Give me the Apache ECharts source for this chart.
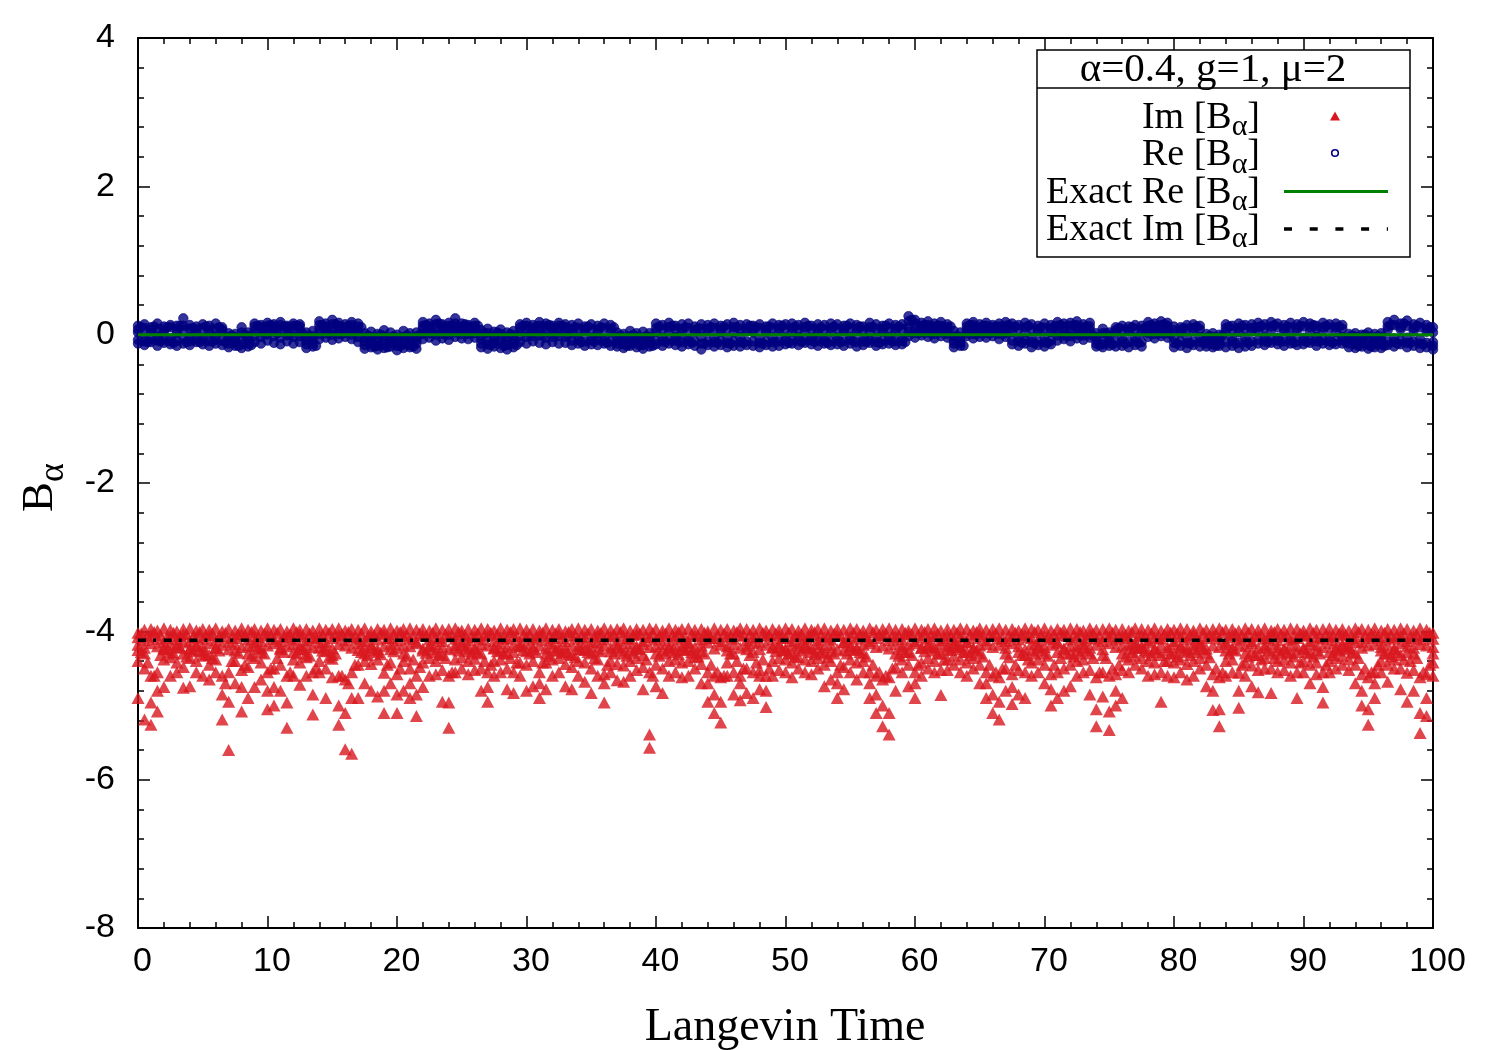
<!DOCTYPE html>
<html><head><meta charset="utf-8">
<script src="https://cdn.jsdelivr.net/npm/echarts@6/dist/echarts.min.js"></script>
<style>html,body{margin:0;padding:0;background:#fff}#c{width:1500px;height:1050px}</style>
</head><body><div id="c"></div>
<script>
// Langevin time grid (samples on whole/half steps)
const time = [0,.5,1,1.5,2,2.5,3,3.5,4,4.5,5,5.5,6,6.5,7,7.5,8,8.5,9,9.5,
10,10.5,11,11.5,12,12.5,13,13.5,14,14.5,15,15.5,16,16.5,17,17.5,18,18.5,19,19.5,
20,20.5,21,21.5,22,22.5,23,23.5,24,24.5,25,25.5,26,26.5,27,27.5,28,28.5,29,29.5,
30,30.5,31,31.5,32,32.5,33,33.5,34,34.5,35,35.5,36,36.5,37,37.5,38,38.5,39,39.5,
40,40.5,41,41.5,42,42.5,43,43.5,44,44.5,45,45.5,46,46.5,47,47.5,48,48.5,49,49.5,
50,50.5,51,51.5,52,52.5,53,53.5,54,54.5,55,55.5,56,56.5,57,57.5,58,58.5,59,59.5,
60,60.5,61,61.5,62,62.5,63,63.5,64,64.5,65,65.5,66,66.5,67,67.5,68,68.5,69,69.5,
70,70.5,71,71.5,72,72.5,73,73.5,74,74.5,75,75.5,76,76.5,77,77.5,78,78.5,79,79.5,
80,80.5,81,81.5,82,82.5,83,83.5,84,84.5,85,85.5,86,86.5,87,87.5,88,88.5,89,89.5,
90,90.5,91,91.5,92,92.5,93,93.5,94,94.5,95,95.5,96,96.5,97,97.5,98,98.5,99,99.5,100];
// in-between samples
const timeOff = [.25,.75,1.25,1.75,2.25,2.75,3.25,3.75,4.25,4.75,5.25,5.75,6.25,6.75,7.25,7.75,8.25,8.75,9.25,9.75,
10.25,10.75,11.25,11.75,12.25,12.75,13.25,13.75,14.25,14.75,15.25,15.75,16.25,16.75,17.25,17.75,18.25,18.75,19.25,19.75,
20.25,20.75,21.25,21.75,22.25,22.75,23.25,23.75,24.25,24.75,25.25,25.75,26.25,26.75,27.25,27.75,28.25,28.75,29.25,29.75,
30.25,30.75,31.25,31.75,32.25,32.75,33.25,33.75,34.25,34.75,35.25,35.75,36.25,36.75,37.25,37.75,38.25,38.75,39.25,39.75,
40.25,40.75,41.25,41.75,42.25,42.75,43.25,43.75,44.25,44.75,45.25,45.75,46.25,46.75,47.25,47.75,48.25,48.75,49.25,49.75,
50.25,50.75,51.25,51.75,52.25,52.75,53.25,53.75,54.25,54.75,55.25,55.75,56.25,56.75,57.25,57.75,58.25,58.75,59.25,59.75,
60.25,60.75,61.25,61.75,62.25,62.75,63.25,63.75,64.25,64.75,65.25,65.75,66.25,66.75,67.25,67.75,68.25,68.75,69.25,69.75,
70.25,70.75,71.25,71.75,72.25,72.75,73.25,73.75,74.25,74.75,75.25,75.75,76.25,76.75,77.25,77.75,78.25,78.75,79.25,79.75,
80.25,80.75,81.25,81.75,82.25,82.75,83.25,83.75,84.25,84.75,85.25,85.75,86.25,86.75,87.25,87.75,88.25,88.75,89.25,89.75,
90.25,90.75,91.25,91.75,92.25,92.75,93.25,93.75,94.25,94.75,95.25,95.75,96.25,96.75,97.25,97.75,98.25,98.75,99.25,99.75];

// Re[B_alpha] samples on `time`: upper edge, upper-middle, middle, lower-middle, lower edge of the band
const reA = [.12,.14,.1,.15,.11,.13,.12,.22,.13,.11,.14,.12,.15,.1,
.02,.01,.1,.03,
.15,.13,.16,.14,.17,.12,.15,.14,
.03,.05,
.18,.15,.2,.16,.14,.17,.15,
.02,.04,.01,.06,.03,0,.05,.02,.03,
.17,.15,.2,.14,.16,.22,.15,.13,.16,
.06,.08,.04,.07,.03,.05,
.14,.16,.13,.17,.15,.12,.16,.14,
.13,.15,.11,.14,.12,.15,.13,
.03,.01,.05,.02,.04,.02,
.15,.13,.16,.12,.14,.15,.11,.14,.13,
.15,.12,.14,.16,.13,.14,
.12,.14,.11,.15,.13,.14,
.15,.13,.16,.12,.14,.13,.15,
.14,.12,.15,.13,.11,.16,.14,.12,.15,.13,.14,
.25,.2,.16,.18,.15,.17,.14,
.05,.03,
.15,.17,.14,.16,.13,.15,.17,
.15,.13,.16,.14,.12,.15,.13,
.17,.15,.16,.18,.14,.16,
.02,.08,.03,
.1,.12,.11,.13,.12,
.17,.15,.18,.16,
.11,.1,.13,.14,.12,
.01,.02,0,
.14,.12,.15,.13,.14,
.16,.14,.17,.15,.13,.16,.14,.17,.15,.12,.16,.14,.15,.13,
.01,.02,0,.03,.01,.02,
.17,.2,.15,.19,.14,.16,.13,.1];
const reD = [.07,.09,.06,.08,.07,.1,.06,.12,.08,.07,.09,.06,.08,.07,
-.03,-.04,.03,-.02,
.11,.1,.12,.11,.13,.1,.12,.11,
-.03,-.02,
.13,.11,.14,.12,.1,.13,.11,
-.04,-.03,-.05,-.02,-.04,-.05,-.03,-.04,-.03,
.12,.11,.14,.1,.12,.15,.11,.1,.12,
-.01,.02,-.02,.01,-.03,-.01,
.1,.12,.09,.12,.11,.09,.12,.1,
.08,.09,.07,.08,.06,.09,.08,
-.03,-.04,-.02,-.03,-.04,-.03,
.09,.07,.1,.07,.08,.09,.06,.08,.08,
.09,.07,.08,.1,.07,.08,
.07,.09,.06,.09,.08,.08,
.09,.07,.1,.07,.08,.07,.09,
.08,.07,.09,.08,.06,.1,.08,.07,.09,.08,.08,
.18,.15,.12,.13,.11,.12,.1,
-.02,-.03,
.11,.13,.1,.12,.1,.11,.12,
.09,.08,.1,.08,.07,.09,.08,
.12,.11,.12,.13,.1,.11,
-.03,.02,-.02,
.06,.07,.07,.08,.07,
.12,.11,.13,.12,
.06,.06,.08,.09,.07,
-.04,-.03,-.05,
.09,.07,.09,.08,.09,
.1,.09,.11,.1,.08,.1,.09,.11,.1,.08,.1,.09,.1,.08,
-.04,-.03,-.05,-.03,-.04,-.03,
.11,.13,.1,.12,.09,.1,.08,.03];
const reC = [.03,-.04,.05,-.02,.04,-.05,.02,.06,-.03,.04,-.04,.03,-.02,.05,
-.08,-.07,-.09,-.06,
.05,.08,.03,.07,.04,.09,.05,.06,
-.08,-.07,
.07,.09,.05,.08,.06,.09,.04,
-.09,-.07,-.1,-.08,-.06,-.09,-.08,-.1,-.07,
.08,.06,.09,.05,.08,.1,.07,.06,.08,
-.06,-.08,-.07,-.05,-.09,-.07,
.05,.07,.04,.08,.06,.03,.07,.05,
.04,-.03,.05,-.04,.02,-.05,.03,
-.08,-.06,-.09,-.07,-.08,-.06,
.04,-.04,.05,-.03,.03,-.05,.04,-.03,.05,
-.04,.04,-.05,.03,-.03,.05,
.03,-.05,.04,-.03,.05,-.04,
.04,-.03,.05,-.04,.03,-.05,.04,
-.04,.05,-.03,.04,-.05,.03,-.04,.05,-.03,.04,-.05,
.1,.08,.06,.09,.07,.08,.05,
-.08,-.07,
.06,.08,.05,.09,.07,.06,.08,
.04,-.05,.03,-.04,.05,-.03,.04,
.06,.08,.05,.09,.07,.06,
-.07,-.09,-.08,
.03,-.05,.04,-.04,.03,
.07,.09,.06,.08,
-.05,.03,-.04,.05,-.03,
-.08,-.07,-.09,
.04,-.05,.03,-.04,.05,
.05,-.03,.06,-.04,.05,-.02,.06,-.04,.04,-.03,.06,-.05,.04,-.03,
-.07,-.09,-.08,-.1,-.07,-.08,
.06,-.05,.07,-.04,.05,-.06,.04,-.1];
const reE = [-.07,-.09,-.06,-.08,-.07,-.09,-.08,-.06,-.09,-.06,-.08,-.09,-.07,-.08,
-.12,-.11,-.13,-.12,
-.02,-.03,0,-.02,-.04,-.01,-.03,-.02,
-.13,-.12,
.01,.02,0,.01,.02,0,-.03,
-.14,-.12,-.15,-.13,-.11,-.15,-.13,-.14,-.12,
.01,.02,0,.01,0,.03,.01,.01,.02,
-.12,-.13,-.11,-.12,-.14,-.12,
-.02,-.03,-.02,-.01,-.04,-.03,-.02,-.03,
-.08,-.07,-.09,-.08,-.07,-.08,-.09,
-.12,-.13,-.12,-.12,-.14,-.11,
-.08,-.09,-.07,-.08,-.1,-.08,-.09,-.12,-.09,
-.1,-.08,-.11,-.09,-.1,-.09,
-.09,-.11,-.09,-.1,-.09,-.08,
-.07,-.08,-.07,-.08,-.09,-.08,-.09,
-.08,-.09,-.07,-.1,-.09,-.07,-.1,-.08,-.07,-.09,-.08,
.04,.02,.03,.03,.01,.03,.01,
-.12,-.11,
.02,.01,.02,.02,.03,.01,.02,
-.08,-.09,-.07,-.1,-.09,-.1,-.08,
-.01,-.01,-.02,0,-.01,0,
-.12,-.13,-.11,
-.1,-.09,-.1,-.09,-.1,
.02,.01,.02,.02,
-.11,-.09,-.11,-.09,-.1,
-.12,-.13,-.12,
-.1,-.09,-.11,-.1,-.09,
-.07,-.09,-.06,-.08,-.09,-.07,-.09,-.08,-.07,-.09,-.07,-.09,-.08,-.07,
-.12,-.13,-.12,-.14,-.12,-.13,
-.09,-.1,-.08,-.11,-.09,-.12,-.11,-.15];
const reB = [-.12,-.14,-.1,-.15,-.11,-.13,-.15,-.12,-.14,-.1,-.13,-.15,-.12,-.14,
-.17,-.15,-.18,-.16,
-.1,-.12,-.08,-.11,-.13,-.09,-.12,-.1,
-.18,-.16,
-.06,-.04,-.07,-.05,-.03,-.06,-.1,
-.19,-.17,-.2,-.18,-.16,-.21,-.18,-.17,-.19,
-.06,-.04,-.08,-.05,-.07,-.03,-.05,-.06,-.04,
-.17,-.19,-.16,-.18,-.2,-.17,
-.1,-.12,-.09,-.11,-.13,-.1,-.12,-.11,
-.14,-.12,-.15,-.13,-.14,-.12,-.15,
-.16,-.18,-.15,-.17,-.19,-.16,
-.13,-.15,-.12,-.14,-.16,-.13,-.15,-.2,-.14,
-.16,-.14,-.17,-.15,-.16,-.14,
-.15,-.17,-.14,-.16,-.15,-.13,
-.12,-.14,-.11,-.13,-.15,-.12,-.14,
-.13,-.15,-.12,-.16,-.14,-.11,-.15,-.13,-.12,-.14,-.13,
-.02,-.04,-.01,-.03,-.05,-.02,-.04,
-.17,-.15,
-.02,-.05,-.03,-.04,-.02,-.06,-.03,
-.13,-.15,-.12,-.17,-.14,-.16,-.13,
-.08,-.06,-.09,-.05,-.07,-.04,
-.16,-.17,-.15,
-.16,-.15,-.17,-.14,-.16,
-.03,-.05,-.02,-.04,
-.17,-.15,-.18,-.14,-.16,
-.16,-.17,-.15,
-.17,-.15,-.18,-.16,-.15,
-.12,-.14,-.11,-.13,-.15,-.12,-.14,-.13,-.11,-.15,-.12,-.14,-.13,-.12,
-.17,-.18,-.16,-.19,-.17,-.18,
-.14,-.16,-.13,-.17,-.15,-.18,-.17,-.2];
// Re[B_alpha] samples on `timeOff`
const reF = [.1,-.1,.11,-.09,.1,-.11,.12,-.1,.09,-.1,.11,-.09,.1,-.1,
-.01,-.15,0,-.14,
.12,.01,.13,.02,.11,0,.12,.01,
-.02,-.15,
.13,.02,.14,.01,.12,.03,.1,
-.01,-.16,0,-.17,-.02,-.15,-.01,-.16,0,
.13,.02,.15,.01,.12,.03,.14,.02,.12,
.02,-.14,.03,-.15,.01,-.14,
.12,0,.11,-.01,.13,0,.12,-.01,
.1,-.1,.11,-.09,.1,-.11,.1,
-.01,-.15,0,-.14,-.02,-.15,
.11,-.1,.12,-.09,.1,-.11,.09,-.12,.1,
-.11,.11,-.12,.1,-.11,.12,
.1,-.12,.11,-.1,.12,-.11,
.11,-.1,.12,-.09,.1,-.11,.11,
-.1,.12,-.09,.11,-.1,.1,-.11,.12,-.09,.11,-.1,
.2,.03,.13,.02,.12,.03,.11,
-.02,-.15,
.13,.01,.12,.02,.11,.01,.13,
.11,-.11,.12,-.12,.1,-.11,.11,
.13,-.01,.12,0,.11,-.01,
-.14,.02,-.13,
.09,-.12,.1,-.11,.09,
.13,.02,.14,.01,
-.12,.09,-.12,.11,-.1,
-.02,-.15,-.01,
.11,-.12,.12,-.11,.1,
.12,-.1,.13,-.09,.11,-.11,.12,-.1,.13,-.09,.12,-.11,.11,-.1,
-.01,-.15,0,-.16,-.02,-.15,
.13,-.12,.15,-.11,.12,-.13,.1];

// Im[B_alpha] samples on `time`: from the top edge of the band down to the tail
const imA = [-4.02,-3.98,-3.97,-3.99,-3.96,-3.98,-4,-3.97,-3.96,-3.99,-3.97,-3.98,-3.96,-4,-3.97,-3.99,-3.96,-3.98,-3.97,-3.99,
-3.96,-3.98,-3.97,-4,-3.96,-3.98,-3.97,-3.99,-3.96,-3.98,-3.97,-3.96,-3.99,-3.97,-3.98,-3.96,-4,-3.97,-3.98,-3.96,
-3.99,-3.97,-3.96,-3.98,-3.97,-3.99,-3.96,-3.98,-3.97,-3.96,-3.99,-3.97,-3.98,-3.96,-3.97,-3.99,-3.96,-3.98,-3.97,-3.96,
-3.98,-3.97,-3.99,-3.96,-3.98,-3.97,-4,-3.97,-3.96,-3.98,-3.97,-3.99,-3.96,-3.98,-3.97,-3.96,-3.99,-3.97,-3.98,-3.96,
-3.97,-3.99,-3.96,-3.98,-3.97,-3.96,-3.98,-3.97,-4,-3.96,-3.98,-3.97,-3.99,-3.96,-3.97,-3.98,-3.96,-3.99,-3.97,-3.98,
-3.96,-3.97,-3.99,-3.96,-3.98,-3.97,-3.96,-3.99,-3.97,-3.98,-3.96,-3.97,-3.99,-3.96,-3.98,-3.97,-3.96,-3.98,-3.97,-3.99,
-3.96,-3.98,-3.97,-3.96,-3.99,-3.97,-3.98,-3.96,-3.97,-3.99,-3.96,-3.98,-3.97,-3.96,-3.98,-3.97,-3.99,-3.96,-3.97,-3.98,
-3.96,-3.99,-3.97,-3.98,-3.96,-3.97,-3.99,-3.96,-3.98,-3.97,-3.96,-3.98,-3.97,-3.99,-3.96,-3.97,-3.98,-3.96,-3.99,-3.97,
-3.98,-3.96,-3.97,-3.99,-3.96,-3.98,-3.97,-3.96,-3.98,-3.97,-3.99,-3.96,-3.97,-3.98,-3.96,-3.99,-3.97,-3.98,-3.96,-3.97,
-3.99,-3.96,-3.98,-3.97,-3.96,-3.98,-3.97,-3.99,-3.96,-3.97,-3.98,-3.96,-3.99,-3.97,-3.98,-3.96,-3.97,-3.99,-3.96,-3.98,-4.02];
const imB = [-4.08,-4.12,-4.05,-4.1,-4.14,-4.06,-4.11,-4.04,-4.13,-4.08,-4.1,-4.05,-4.12,-4.07,-4.14,-4.09,-4.04,-4.11,-4.06,-4.13,
-4.05,-4.1,-4.13,-4.07,-4.11,-4.04,-4.12,-4.08,-4.06,-4.14,-4.09,-4.05,-4.12,-4.07,-4.1,-4.13,-4.06,-4.11,-4.04,-4.09,
-4.12,-4.06,-4.1,-4.14,-4.05,-4.11,-4.08,-4.13,-4.06,-4.1,-4.04,-4.12,-4.07,-4.11,-4.05,-4.13,-4.08,-4.1,-4.06,-4.14,
-4.07,-4.11,-4.05,-4.12,-4.09,-4.04,-4.13,-4.06,-4.1,-4.08,-4.14,-4.05,-4.11,-4.07,-4.12,-4.06,-4.1,-4.04,-4.13,-4.08,
-4.11,-4.05,-4.12,-4.07,-4.1,-4.14,-4.06,-4.11,-4.04,-4.09,-4.13,-4.07,-4.1,-4.05,-4.12,-4.08,-4.14,-4.06,-4.11,-4.05,
-4.09,-4.13,-4.06,-4.1,-4.04,-4.12,-4.08,-4.11,-4.05,-4.14,-4.07,-4.1,-4.06,-4.13,-4.09,-4.05,-4.12,-4.07,-4.11,-4.04,
-4.13,-4.08,-4.1,-4.06,-4.12,-4.05,-4.11,-4.07,-4.14,-4.09,-4.04,-4.12,-4.06,-4.1,-4.13,-4.07,-4.11,-4.05,-4.09,-4.12,
-4.06,-4.1,-4.14,-4.05,-4.11,-4.08,-4.12,-4.04,-4.1,-4.13,-4.07,-4.11,-4.06,-4.09,-4.14,-4.05,-4.12,-4.08,-4.1,-4.06,
-4.13,-4.07,-4.11,-4.04,-4.12,-4.09,-4.06,-4.1,-4.14,-4.05,-4.11,-4.08,-4.13,-4.06,-4.1,-4.04,-4.12,-4.07,-4.11,-4.09,
-4.05,-4.13,-4.08,-4.1,-4.06,-4.12,-4.04,-4.11,-4.07,-4.14,-4.09,-4.05,-4.12,-4.08,-4.1,-4.06,-4.13,-4.07,-4.11,-4.05,-4.1];
const imC = [-4.18,-4.22,-4.16,-4.2,-4.24,-4.17,-4.21,-4.15,-4.23,-4.19,-4.2,-4.16,-4.22,-4.18,-4.24,-4.17,-4.21,-4.19,-4.15,-4.23,
-4.19,-4.16,-4.22,-4.2,-4.17,-4.24,-4.18,-4.21,-4.15,-4.2,-4.23,-4.17,-4.19,-4.22,-4.16,-4.21,-4.18,-4.24,-4.2,-4.17,
-4.22,-4.18,-4.2,-4.16,-4.23,-4.19,-4.17,-4.21,-4.24,-4.18,-4.15,-4.2,-4.22,-4.17,-4.19,-4.23,-4.16,-4.21,-4.18,-4.2,
-4.17,-4.21,-4.19,-4.23,-4.16,-4.2,-4.22,-4.18,-4.24,-4.17,-4.21,-4.15,-4.19,-4.22,-4.18,-4.2,-4.16,-4.23,-4.17,-4.21,
-4.2,-4.17,-4.22,-4.18,-4.24,-4.16,-4.21,-4.19,-4.15,-4.23,-4.18,-4.2,-4.17,-4.22,-4.19,-4.16,-4.24,-4.18,-4.21,-4.17,
-4.23,-4.19,-4.16,-4.2,-4.22,-4.17,-4.21,-4.18,-4.24,-4.15,-4.2,-4.22,-4.18,-4.16,-4.21,-4.19,-4.23,-4.17,-4.2,-4.18,
-4.16,-4.22,-4.19,-4.21,-4.17,-4.24,-4.18,-4.2,-4.15,-4.23,-4.19,-4.17,-4.21,-4.18,-4.22,-4.16,-4.2,-4.24,-4.17,-4.19,
-4.21,-4.18,-4.16,-4.23,-4.19,-4.2,-4.17,-4.22,-4.18,-4.24,-4.16,-4.21,-4.19,-4.17,-4.22,-4.2,-4.15,-4.23,-4.18,-4.21,
-4.17,-4.2,-4.22,-4.18,-4.16,-4.23,-4.19,-4.21,-4.17,-4.24,-4.18,-4.2,-4.16,-4.22,-4.19,-4.17,-4.21,-4.23,-4.18,-4.2,
-4.22,-4.17,-4.19,-4.21,-4.16,-4.24,-4.18,-4.2,-4.15,-4.22,-4.19,-4.17,-4.21,-4.18,-4.23,-4.16,-4.2,-4.22,-4.17,-4.19,-4.21];
const imD = [-4.25,-4.3,-4.96,-4.8,-4.22,-4.28,-4.18,-4.3,-4.24,-4.2,-4.27,-4.32,-4.22,-4.85,-4.95,-4.26,-4.75,-4.3,-4.2,-4.28,
-4.8,-4.75,-4.24,-4.96,-4.28,-4.2,-4.3,-4.85,-4.22,-4.27,-4.32,-5,-5.1,-4.9,-4.25,-4.3,-4.22,-4.28,-4.8,-4.24,
-4.85,-4.3,-4.7,-4.85,-4.26,-4.2,-4.28,-4.32,-4.96,-4.22,-4.18,-4.27,-4.24,-4.3,-4.75,-4.22,-4.26,-4.3,-4.28,-4.2,
-4.27,-4.24,-4.7,-4.3,-4.22,-4.26,-4.28,-4.32,-4.2,-4.25,-4.3,-4.24,-4.7,-4.27,-4.22,-4.3,-4.26,-4.2,-4.32,-5.39,
-4.3,-4.26,-4.22,-4.28,-4.2,-4.24,-4.3,-4.27,-4.7,-4.85,-4.95,-4.26,-4.3,-4.7,-4.24,-4.28,-4.6,-4.8,-4.22,-4.2,
-4.26,-4.3,-4.22,-4.18,-4.28,-4.24,-4.3,-4.27,-4.7,-4.26,-4.2,-4.24,-4.3,-4.7,-4.85,-5,-5.1,-4.3,-4.24,-4.28,
-4.7,-4.22,-4.18,-4.26,-4.3,-4.2,-4.16,-4.24,-4.28,-4.22,-4.3,-4.7,-4.85,-4.95,-4.3,-4.75,-4.28,-4.32,-4.26,-4.22,
-4.3,-4.78,-4.28,-4.24,-4.3,-4.26,-4.22,-4.3,-5.05,-4.32,-5.08,-4.8,-4.3,-4.24,-4.18,-4.22,-4.28,-4.24,-4.32,-4.26,
-4.3,-4.22,-4.28,-4.24,-4.2,-4.3,-4.8,-5.05,-4.26,-4.22,-4.8,-4.3,-4.28,-4.32,-4.22,-4.3,-4.26,-4.24,-4.3,-4.28,
-4.24,-4.3,-4.26,-4.75,-4.28,-4.22,-4.18,-4.24,-4.3,-4.8,-5.05,-4.7,-4.26,-4.3,-4.24,-4.32,-4.28,-4.3,-5.1,-4.9,-4.3];
const imE = [-4.4,-4.5,-4.6,-4.55,-4.38,-4.35,-4.42,-4.48,-4.36,-4.4,-4.33,-4.45,-4.38,-4.6,-4.55,-4.4,-4.52,-4.48,-4.36,-4.42,
-4.55,-4.5,-4.45,-4.6,-4.38,-4.42,-4.35,-4.55,-4.4,-4.5,-4.37,-4.6,-4.65,-4.55,-4.45,-4.4,-4.44,-4.38,-4.56,-4.42,
-4.58,-4.4,-4.5,-4.6,-4.42,-4.36,-4.4,-4.52,-4.6,-4.38,-4.35,-4.4,-4.37,-4.5,-4.55,-4.4,-4.38,-4.5,-4.55,-4.42,
-4.45,-4.4,-4.55,-4.42,-4.38,-4.36,-4.44,-4.48,-4.4,-4.42,-4.5,-4.38,-4.58,-4.4,-4.44,-4.46,-4.4,-4.36,-4.48,-4.55,
-4.45,-4.5,-4.4,-4.38,-4.42,-4.4,-4.35,-4.44,-4.55,-4.6,-4.62,-4.42,-4.55,-4.6,-4.5,-4.55,-4.52,-4.6,-4.4,-4.36,
-4.38,-4.42,-4.35,-4.38,-4.4,-4.36,-4.45,-4.4,-4.55,-4.48,-4.38,-4.42,-4.4,-4.55,-4.6,-4.65,-4.62,-4.48,-4.38,-4.45,
-4.55,-4.42,-4.36,-4.4,-4.52,-4.38,-4.33,-4.38,-4.42,-4.36,-4.45,-4.55,-4.6,-4.62,-4.5,-4.58,-4.52,-4.55,-4.42,-4.38,
-4.45,-4.58,-4.55,-4.5,-4.45,-4.4,-4.38,-4.52,-4.62,-4.55,-4.6,-4.58,-4.52,-4.38,-4.33,-4.36,-4.4,-4.42,-4.55,-4.4,
-4.42,-4.38,-4.44,-4.4,-4.36,-4.45,-4.58,-4.62,-4.4,-4.38,-4.56,-4.42,-4.46,-4.52,-4.36,-4.5,-4.4,-4.38,-4.42,-4.55,
-4.4,-4.45,-4.42,-4.55,-4.4,-4.36,-4.33,-4.38,-4.45,-4.58,-4.62,-4.55,-4.4,-4.45,-4.38,-4.5,-4.56,-4.52,-4.62,-4.58,-4.42];
const imF = [-4.9,-5.19,-5.26,-5.08,-4.75,-4.6,-4.55,-4.76,-4.74,-4.55,-4.6,-4.65,-4.55,-5.19,-5.6,-4.7,-5.08,-4.9,-4.75,-4.65,
-5.05,-5,-4.8,-5.3,-4.6,-4.72,-4.6,-5.12,-4.55,-4.9,-4.62,-5.26,-5.59,-5.65,-4.9,-4.7,-4.8,-4.88,-5.1,-4.7,
-5.1,-4.8,-4.9,-5.14,-4.75,-4.6,-4.58,-4.95,-5.3,-4.55,-4.5,-4.58,-4.52,-4.8,-4.95,-4.6,-4.55,-4.78,-4.83,-4.6,
-4.8,-4.74,-4.9,-4.78,-4.6,-4.55,-4.74,-4.78,-4.6,-4.68,-4.83,-4.6,-4.96,-4.55,-4.66,-4.68,-4.6,-4.52,-4.78,-5.57,
-4.74,-4.83,-4.6,-4.55,-4.62,-4.6,-4.5,-4.7,-4.95,-5.1,-5.23,-4.6,-4.85,-4.93,-4.83,-4.9,-4.78,-5.02,-4.6,-4.52,
-4.55,-4.62,-4.5,-4.55,-4.58,-4.5,-4.74,-4.65,-4.9,-4.78,-4.55,-4.65,-4.55,-4.9,-5.1,-5.28,-5.39,-4.8,-4.55,-4.74,
-4.9,-4.6,-4.5,-4.55,-4.86,-4.52,-4.45,-4.55,-4.6,-4.5,-4.7,-4.9,-5.1,-5.19,-4.8,-4.98,-4.85,-4.9,-4.6,-4.55,
-4.7,-5,-4.9,-4.8,-4.74,-4.6,-4.55,-4.85,-5.28,-4.88,-5.33,-5,-4.9,-4.55,-4.45,-4.5,-4.6,-4.58,-4.95,-4.6,
-4.62,-4.55,-4.65,-4.6,-4.5,-4.74,-5.06,-5.28,-4.6,-4.55,-5.03,-4.6,-4.74,-4.82,-4.5,-4.83,-4.55,-4.52,-4.6,-4.9,
-4.55,-4.7,-4.58,-4.96,-4.55,-4.5,-4.45,-4.52,-4.7,-5,-5.26,-4.9,-4.55,-4.68,-4.5,-4.78,-4.95,-4.8,-5.37,-5.14,-4.6];
// Im[B_alpha] samples on `timeOff`
const imG = [-4.03,-4.07,-4.01,-4.05,-4.09,-4.02,-4.06,-4.04,-4.08,-4.01,-4.05,-4.03,-4.07,-4.02,-4.09,-4.04,-4.06,-4.01,-4.08,-4.03,
-4.06,-4.02,-4.08,-4.04,-4.01,-4.07,-4.03,-4.09,-4.05,-4.02,-4.06,-4.04,-4.01,-4.08,-4.03,-4.07,-4.05,-4.02,-4.09,-4.04,
-4.01,-4.05,-4.08,-4.03,-4.06,-4.02,-4.09,-4.04,-4.07,-4.01,-4.05,-4.08,-4.03,-4.06,-4.02,-4.04,-4.09,-4.01,-4.07,-4.05,
-4.04,-4.08,-4.02,-4.06,-4.03,-4.09,-4.01,-4.05,-4.07,-4.03,-4.08,-4.02,-4.06,-4.04,-4.01,-4.09,-4.05,-4.03,-4.07,-4.02,
-4.07,-4.03,-4.05,-4.01,-4.08,-4.04,-4.06,-4.02,-4.09,-4.05,-4.03,-4.07,-4.01,-4.06,-4.04,-4.08,-4.02,-4.05,-4.03,-4.09,
-4.02,-4.06,-4.04,-4.08,-4.01,-4.05,-4.07,-4.03,-4.06,-4.09,-4.02,-4.04,-4.08,-4.01,-4.05,-4.03,-4.07,-4.06,-4.02,-4.04,
-4.05,-4.01,-4.07,-4.03,-4.09,-4.06,-4.02,-4.08,-4.04,-4.01,-4.07,-4.05,-4.03,-4.09,-4.06,-4.02,-4.04,-4.08,-4.01,-4.06,
-4.08,-4.04,-4.02,-4.06,-4.05,-4.01,-4.09,-4.03,-4.07,-4.04,-4.02,-4.08,-4.05,-4.01,-4.07,-4.06,-4.03,-4.09,-4.04,-4.02,
-4.03,-4.07,-4.05,-4.09,-4.02,-4.06,-4.04,-4.01,-4.08,-4.03,-4.06,-4.02,-4.07,-4.05,-4.09,-4.01,-4.04,-4.06,-4.08,-4.03,
-4.06,-4.02,-4.08,-4.04,-4.07,-4.03,-4.05,-4.09,-4.01,-4.06,-4.04,-4.08,-4.02,-4.05,-4.07,-4.03,-4.09,-4.04,-4.06,-4.02];
const imH = [-4.28,-4.42,-4.6,-4.32,-4.24,-4.3,-4.22,-4.34,-4.27,-4.25,-4.31,-4.36,-4.26,-4.7,-4.4,-4.29,-4.45,-4.33,-4.23,-4.3,
-4.5,-4.36,-4.28,-4.55,-4.3,-4.24,-4.33,-4.5,-4.26,-4.35,-4.3,-4.6,-4.7,-4.45,-4.28,-4.32,-4.26,-4.31,-4.45,-4.27,
-4.5,-4.33,-4.38,-4.48,-4.29,-4.24,-4.31,-4.36,-4.55,-4.26,-4.23,-4.3,-4.28,-4.4,-4.45,-4.27,-4.3,-4.36,-4.42,-4.25,
-4.3,-4.28,-4.42,-4.33,-4.26,-4.29,-4.31,-4.35,-4.24,-4.28,-4.36,-4.27,-4.45,-4.3,-4.26,-4.33,-4.29,-4.24,-4.38,-4.6,
-4.33,-4.3,-4.26,-4.31,-4.25,-4.28,-4.34,-4.3,-4.45,-4.55,-4.6,-4.3,-4.4,-4.5,-4.32,-4.42,-4.38,-4.5,-4.27,-4.25,
-4.3,-4.34,-4.26,-4.23,-4.31,-4.28,-4.35,-4.3,-4.45,-4.3,-4.25,-4.28,-4.34,-4.45,-4.55,-4.6,-4.5,-4.33,-4.28,-4.32,
-4.45,-4.27,-4.22,-4.3,-4.38,-4.25,-4.21,-4.28,-4.32,-4.26,-4.34,-4.45,-4.55,-4.5,-4.35,-4.45,-4.32,-4.38,-4.3,-4.26,
-4.33,-4.45,-4.36,-4.3,-4.34,-4.3,-4.26,-4.36,-4.55,-4.36,-4.5,-4.45,-4.34,-4.28,-4.22,-4.26,-4.32,-4.28,-4.4,-4.3,
-4.34,-4.26,-4.32,-4.28,-4.24,-4.35,-4.5,-4.55,-4.3,-4.26,-4.45,-4.34,-4.32,-4.38,-4.26,-4.36,-4.3,-4.28,-4.34,-4.42,
-4.28,-4.34,-4.3,-4.45,-4.32,-4.26,-4.22,-4.28,-4.36,-4.5,-4.55,-4.45,-4.3,-4.34,-4.28,-4.38,-4.4,-4.36,-4.55,-4.45];

// exact results
const exactRe = 0;
const exactIm = -4.12;
const timeRange = [0, 100];

// legend / titles
const paramTitle = 'α=0.4, g=1, μ=2';
const legendLabels = ['Im', 'Re', 'Exact Re', 'Exact Im'];
const xTitle = 'Langevin Time';

const RED = '#d8161e', NAVY = '#000080', GREEN = '#008000';
const SERIF = '"Liberation Serif","Times New Roman",serif';
const SANS = '"Liberation Sans",Arial,Helvetica,sans-serif';

const ctx = document.createElement('canvas').getContext('2d');
function tw(s, size, fam) { ctx.font = size + 'px ' + fam; return ctx.measureText(s).width; }
function txt(x, baseline, s, size, fam, align) {
  return { type: 'text', x: x, y: baseline - 0.32 * size, silent: true,
    style: { text: s, font: size + 'px ' + fam, fill: '#000', textAlign: align, align: align,
      textVerticalAlign: 'middle', verticalAlign: 'middle' } };
}
const pairs = (ts, ys) => ts.map((t, i) => [t, ys[i]]);

const graphics = [];
graphics.push(txt(785, 1043, xTitle, 46, SERIF, 'center'));
const wB = tw('B', 45, SERIF);
graphics.push({ type: 'group', x: 55, y: 512, rotation: Math.PI / 2, children: [
  txt(0, 0, 'B', 45, SERIF, 'left'),
  txt(wB, 10, 'α', 36, SERIF, 'left')
]});
graphics.push({ type: 'rect', shape: { x: 1037, y: 50, width: 373, height: 207 },
  style: { fill: '#fff', stroke: '#000', lineWidth: 1.5 }, z: 10 });
graphics.push({ type: 'line', shape: { x1: 1037, y1: 88, x2: 1410, y2: 88 },
  style: { stroke: '#000', lineWidth: 1.5 }, z: 11 });
const lt = txt(1213, 83, paramTitle, 41, SERIF, 'center'); lt.z = 11; graphics.push(lt);
const bases = [130, 167.5, 205, 242];
const wClose = tw(']', 38, SERIF), wAl = tw('α', 30, SERIF);
legendLabels.forEach((lab, k) => {
  const b = bases[k];
  [txt(1260, b, ']', 38, SERIF, 'right'),
   txt(1260 - wClose, b + 7, 'α', 30, SERIF, 'right'),
   txt(1260 - wClose - wAl, b, lab + ' [B', 38, SERIF, 'right')].forEach(e => { e.z = 11; graphics.push(e); });
});
graphics.push({ type: 'polygon', z: 11, shape: { points: [[1330, 120.5], [1340, 120.5], [1335, 111.5]] }, style: { fill: RED } });
graphics.push({ type: 'circle', z: 11, shape: { cx: 1335, cy: 153, r: 3.3 }, style: { fill: 'none', stroke: NAVY, lineWidth: 1.6 } });
graphics.push({ type: 'line', z: 11, shape: { x1: 1284, y1: 191.5, x2: 1388, y2: 191.5 }, style: { stroke: GREEN, lineWidth: 3 } });
graphics.push({ type: 'line', z: 11, shape: { x1: 1284, y1: 229, x2: 1388, y2: 229 }, style: { stroke: '#000', lineWidth: 3.5, lineDash: [8, 17.7] } });

function axisCommon() {
  return {
    axisLine: { show: true, onZero: false, lineStyle: { color: '#000', width: 2 } },
    axisTick: { show: true, inside: true, length: 12, lineStyle: { color: '#000', width: 1.5 } },
    minorTick: { show: true, splitNumber: 5, length: 6, lineStyle: { color: '#000', width: 1.5 } },
    splitLine: { show: false }, minorSplitLine: { show: false }
  };
}
const xBase = { type: 'value', min: 0, max: 100, interval: 10 };
const yBase = { type: 'value', min: -8, max: 4, interval: 2 };

const redScatter = (ts, d) => ({ type: 'scatter', symbol: 'triangle', symbolSize: [13, 12], data: pairs(ts, d),
  itemStyle: { color: RED }, silent: true, clip: false });
const blueScatter = (ts, d) => ({ type: 'scatter', symbol: 'circle', symbolSize: 9.5, data: pairs(ts, d),
  itemStyle: { color: NAVY, borderColor: NAVY, borderWidth: 0.8 }, silent: true, clip: false });

const chart = echarts.init(document.getElementById('c'), null, { renderer: 'canvas' });
chart.setOption({
  animation: false,
  backgroundColor: '#fff',
  grid: { left: 138, right: 67, top: 38, bottom: 122, containLabel: false },
  xAxis: [
    Object.assign({}, xBase, axisCommon(), { position: 'bottom',
      axisLabel: { show: true, color: '#000', fontSize: 34, fontFamily: SANS, margin: 17, padding: [0, 0, 0, 9] } }),
    Object.assign({}, xBase, axisCommon(), { position: 'top', axisLabel: { show: false } })
  ],
  yAxis: [
    Object.assign({}, yBase, axisCommon(), { position: 'left',
      axisLabel: { show: true, color: '#000', fontSize: 34, fontFamily: SANS, margin: 23 } }),
    Object.assign({}, yBase, axisCommon(), { position: 'right', axisLabel: { show: false } })
  ],
  series: [
    redScatter(time, imF), redScatter(time, imE), redScatter(timeOff, imH), redScatter(time, imD),
    redScatter(time, imC), redScatter(time, imB), redScatter(timeOff, imG), redScatter(time, imA),
    blueScatter(time, reB), blueScatter(time, reE), blueScatter(timeOff, reF), blueScatter(time, reC),
    blueScatter(time, reD), blueScatter(time, reA),
    { type: 'line', data: timeRange.map(t => [t, exactRe]), symbol: 'none', silent: true,
      lineStyle: { color: GREEN, width: 3 } },
    { type: 'line', data: timeRange.map(t => [t, exactIm]), symbol: 'none', silent: true,
      lineStyle: { color: '#000', width: 3.5, type: [8, 7, 3, 7.7] } }
  ],
  graphic: graphics
});
</script>
</body></html>
